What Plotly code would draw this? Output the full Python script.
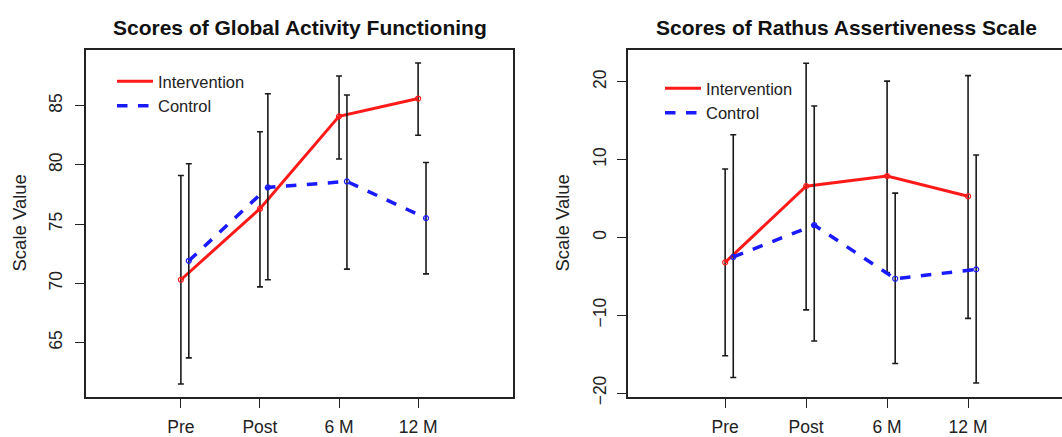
import plotly.graph_objects as go

# ---- data ----
time_labels = ["Pre", "Post", "6 M", "12 M"]
time_pos = [1, 2, 3, 4]
control_offset = 0.1

# Global Activity Functioning
gaf_int_mean = [70.3, 76.3, 84.1, 85.6]
gaf_int_low = [61.5, 69.7, 80.5, 82.5]
gaf_int_high = [79.1, 82.8, 87.5, 88.6]
gaf_ctl_mean = [71.9, 78.1, 78.6, 75.5]
gaf_ctl_low = [63.7, 70.3, 71.2, 70.8]
gaf_ctl_high = [80.1, 86.0, 85.9, 80.2]

# Rathus Assertiveness Scale
ras_int_mean = [-3.2, 6.6, 7.9, 5.3]
ras_int_low = [-15.2, -9.3, -4.5, -10.4]
ras_int_high = [8.8, 22.4, 20.1, 20.8]
ras_ctl_mean = [-2.5, 1.6, -5.3, -4.1]
ras_ctl_low = [-18.0, -13.3, -16.2, -18.7]
ras_ctl_high = [13.2, 16.9, 5.7, 10.6]

titles = ["Scores of Global Activity Functioning", "Scores of Rathus Assertiveness Scale"]
y_title = "Scale Value"
gaf_ticks = [65, 70, 75, 80, 85]
ras_ticks = [-20, -10, 0, 10, 20]

FONT = "Liberation Sans, Arial, sans-serif"
W, H = 1062, 437
RED = "#ff1a1a"
BLUE = "#1a1aff"

fig = go.Figure()

def add_series(xa, ya, legend, xs, m, lo, hi, name, color, dash, width):
    fig.add_trace(go.Scatter(
        x=xs, y=m, mode="lines", name=name,
        xaxis=xa, yaxis=ya, legend=legend,
        line=dict(color=color, width=width, dash=dash),
        error_y=dict(type="data", symmetric=False,
                     array=[h - v for h, v in zip(hi, m)],
                     arrayminus=[v - l for v, l in zip(m, lo)],
                     color="#1a1a1a", thickness=1.6, width=3),
    ))
    fig.add_trace(go.Scatter(
        x=xs, y=m, mode="markers", showlegend=False, hoverinfo="skip",
        xaxis=xa, yaxis=ya,
        marker=dict(symbol="circle-open", size=5, color=color, line=dict(width=1.2)),
    ))

def add_panel(xa, ya, legend, im, il, ih, cm, cl, ch):
    xi = time_pos
    xc = [p + control_offset for p in time_pos]
    add_series(xa, ya, legend, xi, im, il, ih, "Intervention", RED, "solid", 3)
    add_series(xa, ya, legend, xc, cm, cl, ch, "Control", BLUE, "dash", 3.5)

add_panel("x", "y", "legend", gaf_int_mean, gaf_int_low, gaf_int_high,
          gaf_ctl_mean, gaf_ctl_low, gaf_ctl_high)
add_panel("x2", "y2", "legend2", ras_int_mean, ras_int_low, ras_int_high,
          ras_ctl_mean, ras_ctl_low, ras_ctl_high)

y_top = 1 - 50 / H
y_bot = 1 - 397 / H

axis_common = dict(
    showgrid=False, zeroline=False, showline=True, linecolor="#222",
    linewidth=1.5, ticks="outside", ticklen=9, tickwidth=1.2, tickcolor="#222",
    tickfont=dict(family=FONT, size=17.5, color="#222"), automargin=False,
)

legend_common = dict(xanchor="left", yanchor="top", bgcolor="rgba(0,0,0,0)",
                     borderwidth=0, font=dict(family=FONT, size=16.5, color="#222"),
                     tracegroupgap=0, itemwidth=36)

fig.update_layout(
    width=W, height=H,
    margin=dict(l=0, r=0, t=0, b=0, pad=0, autoexpand=False),
    paper_bgcolor="white", plot_bgcolor="white",
    showlegend=True,
    xaxis=dict(domain=[86 / W, 513 / W], range=[-0.2, 5.2], mirror=True,
               tickvals=time_pos, ticktext=time_labels, anchor="y",
               ticklabelstandoff=4, **axis_common),
    yaxis=dict(domain=[y_bot, y_top], range=[60.4, 89.7], mirror=True,
               tickvals=gaf_ticks, tickangle=-90, anchor="x",
               ticklabelstandoff=6, **axis_common),
    xaxis2=dict(domain=[628 / W, 1.0], range=[-0.2, 5.16], mirror=True,
                tickvals=time_pos, ticktext=time_labels, anchor="y2",
                ticklabelstandoff=4, **axis_common),
    yaxis2=dict(domain=[y_bot, y_top], range=[-20.5, 24.1], mirror=False,
                tickvals=ras_ticks, tickangle=-90, anchor="x2",
                ticklabelstandoff=4, **axis_common),
    legend=dict(x=112 / W, y=1 - 64 / H, **legend_common),
    legend2=dict(x=660 / W, y=1 - 71 / H, **legend_common),
    annotations=[
        dict(text="<b>" + titles[0] + "</b>", x=300 / W, y=1 - 27 / H, xref="paper", yref="paper",
             showarrow=False, xanchor="center", yanchor="middle",
             font=dict(family=FONT, size=21, color="#111")),
        dict(text="<b>" + titles[1] + "</b>", x=846 / W, y=1 - 27 / H, xref="paper", yref="paper",
             showarrow=False, xanchor="center", yanchor="middle",
             font=dict(family=FONT, size=21, color="#111")),
        dict(text=y_title, x=19 / W, y=(y_top + y_bot) / 2, xref="paper", yref="paper",
             showarrow=False, textangle=-90, xanchor="center", yanchor="middle",
             font=dict(family=FONT, size=18.5, color="#222")),
        dict(text=y_title, x=562 / W, y=(y_top + y_bot) / 2, xref="paper", yref="paper",
             showarrow=False, textangle=-90, xanchor="center", yanchor="middle",
             font=dict(family=FONT, size=18.5, color="#222")),
    ],
)

fig.write_html("out.html", config={"displayModeBar": False},
               post_script="document.body.style.margin='0';")
